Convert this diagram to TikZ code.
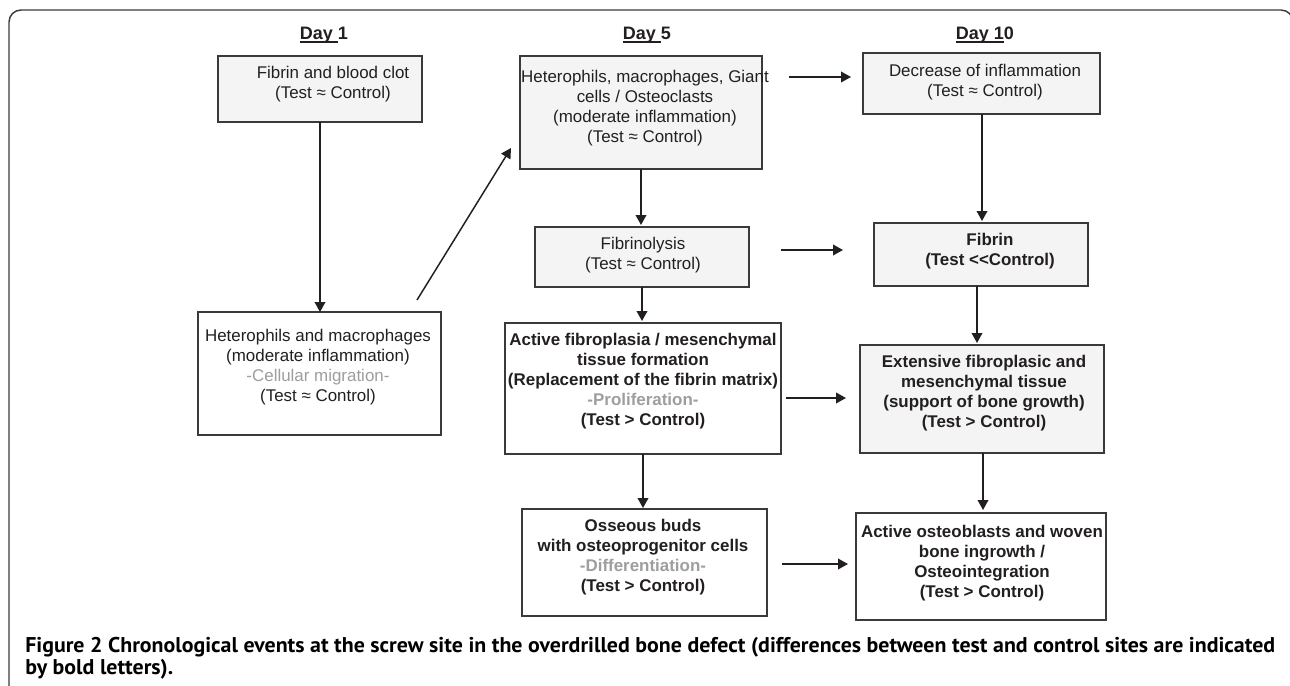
\documentclass[tikz,border=0pt]{standalone}
\usepackage{fontspec}
\usepackage{graphicx}
\setmainfont{Liberation Sans}
\newfontfamily\capfont{PT Sans}
\usetikzlibrary{arrows.meta,calc}
\definecolor{ink}{HTML}{231F20}
\definecolor{boxfill}{HTML}{F4F4F4}
\definecolor{boxline}{HTML}{3A3A3A}
\definecolor{greytxt}{HTML}{9E9E9E}
\newsavebox\capboxa
\newsavebox\capboxb
\def\px{0.75pt}
\newcommand\dayul[2]{\setbox0=\hbox{#1}\rlap{\rule[-2.4pt]{\wd0}{1.1pt}}#1#2}
\begin{document}
\sbox\capboxa{\capfont\bfseries\fontsize{16}{20}\selectfont Figure 2 Chronological events at the screw site in the overdrilled bone defect (differences between test and control sites are indicated}%
\sbox\capboxb{\capfont\bfseries\fontsize{16}{20}\selectfont by bold letters).}%
\pgfmathsetmacro\capsx{937.5/(\wd\capboxa)}%
\begin{tikzpicture}[x=0.75pt,y=-0.75pt,
  every node/.style={text=ink},
  boxw/.style={draw=boxline,line width=1pt,fill=white,inner sep=0pt,outer sep=0pt},
  boxg/.style={boxw,fill=boxfill},
  txt/.style={align=center,inner sep=0pt,font=\fontsize{12.7}{15}\selectfont},
  txtb/.style={txt,font=\fontsize{12.7}{15}\selectfont\bfseries},
  daylbl/.style={inner sep=0pt,font=\fontsize{13.5}{16}\selectfont\bfseries},
  arr/.style={draw=ink,line width=1.1pt,-{Triangle[length=7.5pt,width=8pt]}},
  frame/.style={draw=boxline,line width=1.1pt,rounded corners=9pt}]
\useasboundingbox (0,0) rectangle (1290,686);
% frame
\coordinate (f1) at (9,700);
\coordinate (f2) at (9,10);
\coordinate (f3) at (1293,10);
\coordinate (f4) at (1293,700);
\draw[frame] (f1) -- (f2) -- (f3) -- (f4);
% day labels
\node[daylbl] (d1) at (324,35) {\dayul{Day }{1}};
\node[daylbl] (d5) at (647,35) {\dayul{Day }{5}};
\node[daylbl] (d10) at (985,35) {\dayul{Day 1}{0}};
% boxes
\node[boxg,minimum width=204*\px,minimum height=66*\px] (A) at (320,89) {};
\node[txt] (At) at (333,84) {Fibrin and blood clot\\(Test ≈ Control)};
\node[boxw,minimum width=243*\px,minimum height=123*\px] (B) at (319.5,373.5) {};
\node[txt] (Bt) at (318,367) {Heterophils and macrophages\\(moderate inflammation)\\{\color{greytxt}-Cellular migration-}\\(Test ≈ Control)};
\node[boxg,minimum width=242*\px,minimum height=113*\px] (C) at (641,112.5) {};
\node[txt] (Ct) at (645,108) {Heterophils, macrophages, Giant\\cells / Osteoclasts\\(moderate inflammation)\\(Test ≈ Control)};
\node[boxg,minimum width=214*\px,minimum height=60*\px] (D) at (642,257) {};
\node[txt] (Dt) at (643,255) {Fibrinolysis\\(Test ≈ Control)};
\node[boxw,minimum width=276*\px,minimum height=131*\px] (E) at (643,388.5) {};
\node[txtb] (Et) at (643,381) {Active fibroplasia / mesenchymal\\tissue formation\\(Replacement of the fibrin matrix)\\{\color{greytxt}-Proliferation-}\\(Test > Control)};
\node[boxw,minimum width=245*\px,minimum height=107*\px] (F) at (644.5,562.5) {};
\node[txtb] (Ft) at (643,557) {Osseous buds\\with osteoprogenitor cells\\{\color{greytxt}-Differentiation-}\\(Test > Control)};
\node[boxg,minimum width=237*\px,minimum height=61*\px] (G) at (981.5,83.5) {};
\node[txt] (Gt) at (985,82) {Decrease of inflammation\\(Test ≈ Control)};
\node[boxg,minimum width=214*\px,minimum height=63*\px] (H) at (981,254.5) {};
\node[txtb] (Ht) at (990,251) {Fibrin\\(Test <\kern0pt<Control)};
\node[boxg,minimum width=244*\px,minimum height=108*\px] (I) at (982,399) {};
\node[txtb] (It) at (984,393) {Extensive fibroplasic and\\mesenchymal tissue\\(support of bone growth)\\(Test > Control)};
\node[boxw,minimum width=250*\px,minimum height=107*\px] (J) at (981,566.5) {};
\node[txtb] (Jt) at (982,563) {Active osteoblasts and woven\\bone ingrowth /\\Osteointegration\\(Test > Control)};
% vertical connectors
\draw[arr] (A.south) -- (A.south |- B.north);
\draw[arr] (C.south) -- ($(C.south |- D.north)+(0,-2)$);
\draw[arr] (D.south) -- ($(D.south |- E.north)+(0,-2)$);
\draw[arr] (E.south) -- ($(E.south |- F.north)+(0,-1)$);
\coordinate (gx) at ($(G.south)+(0.5,0)$);
\draw[arr] (gx) -- ($(gx |- H.north)+(0,-2)$);
\coordinate (hx) at ($(H.south)+(-4,0)$);
\draw[arr] (hx) -- ($(hx |- I.north)+(0,-2)$);
\coordinate (ix) at ($(I.south)+(1,0)$);
\draw[arr] (ix) -- ($(ix |- J.north)+(0,-3)$);
% free connectors
\coordinate (b1) at (417,300);
\coordinate (c1) at (511,148);
\draw[arr] (b1) -- (c1);
\coordinate (cg1) at (789,77);
\coordinate (cg2) at (851,77);
\draw[arr] (cg1) -- (cg2);
\coordinate (dh1) at (781,250);
\coordinate (dh2) at (843,250);
\draw[arr] (dh1) -- (dh2);
\coordinate (ei1) at (786,398);
\coordinate (ei2) at (846,398);
\draw[arr] (ei1) -- (ei2);
\coordinate (fj1) at (782,564);
\coordinate (fj2) at (848,564);
\draw[arr] (fj1) -- (fj2);
% caption
\node[anchor=base west,inner sep=0pt] (cap1) at (25,652) {\scalebox{\capsx}[1]{\usebox\capboxa}};
\node[anchor=base west,inner sep=0pt] (cap2) at (25,674) {\scalebox{\capsx}[1]{\usebox\capboxb}};
\end{tikzpicture}
\end{document}
